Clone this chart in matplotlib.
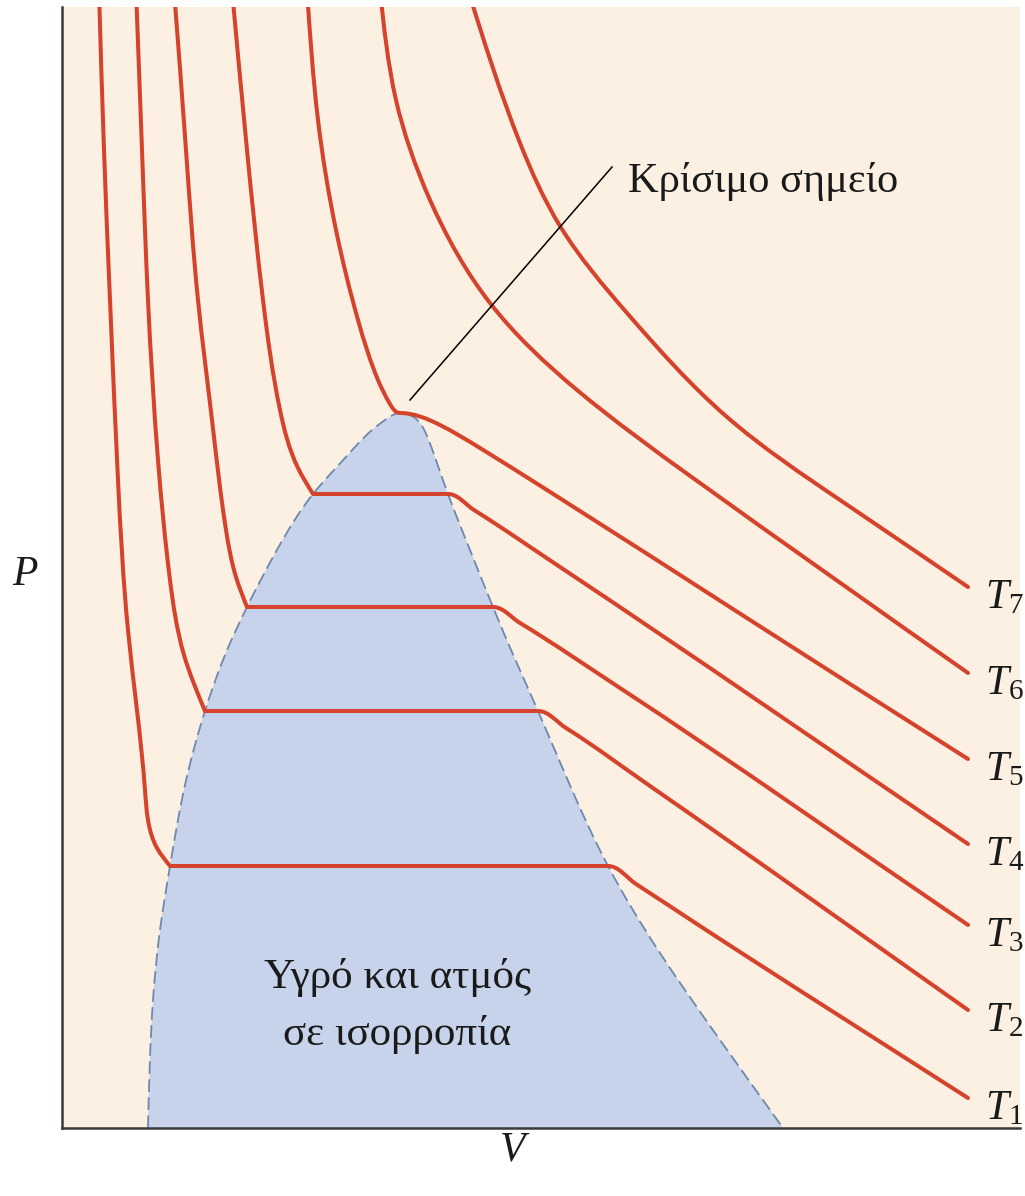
import numpy as np
import matplotlib
matplotlib.use("Agg")
import matplotlib.pyplot as plt
from matplotlib.path import Path
from matplotlib.patches import PathPatch

plt.rcParams["font.family"] = ["Liberation Serif", "DejaVu Serif"]
plt.rcParams["mathtext.fontset"] = "custom"
plt.rcParams["mathtext.rm"] = "Liberation Serif"
plt.rcParams["mathtext.it"] = "Liberation Serif:italic"

# ---- isotherms (V, P in arbitrary units); equal consecutive P = liquid-vapour tie line
T1_V = [0.37, 0.42, 0.48, 0.56, 0.66, 0.83, 0.95, 1.08, 5.46, 5.74, 6.38, 9.06]
T1_P = [11.38, 9.78, 8.28, 6.48, 4.98, 3.38, 2.80, 2.62, 2.62, 2.44, 2.02, 0.30]

T2_V = [0.74, 0.80, 0.86, 0.96, 1.08, 1.22, 1.43, 4.76, 5.04, 5.88, 9.06]
T2_P = [11.38, 9.78, 8.28, 6.68, 5.48, 4.73, 4.17, 4.17, 4.00, 3.42, 1.18]

T3_V = [1.12, 1.24, 1.36, 1.50, 1.64, 1.74, 1.85, 4.31, 4.58, 5.58, 9.06]
T3_P = [11.38, 9.78, 8.28, 7.08, 5.98, 5.51, 5.21, 5.21, 5.05, 4.40, 2.03]

T4_V = [1.70, 1.85, 2.01, 2.18, 2.36, 2.51, 3.86, 4.12, 4.98, 9.06]
T4_P = [11.38, 9.78, 8.28, 7.18, 6.60, 6.34, 6.34, 6.18, 5.61, 2.84]

T5_V = [2.45, 2.56, 2.74, 2.96, 3.16, 3.28, 3.38, 3.78, 4.18, 4.85, 6.88, 9.06]
T5_P = [11.38, 10.08, 8.98, 8.08, 7.48, 7.24, 7.15, 7.03, 6.80, 6.38, 5.08, 3.69]

T6_V = [3.18, 3.34, 3.68, 4.28, 5.15, 6.31, 9.06]
T6_P = [11.38, 10.28, 9.28, 8.25, 7.38, 6.50, 4.55]

T7_V = [4.06, 4.58, 4.98, 5.65, 6.65, 7.78, 9.06]
T7_P = [11.38, 9.85, 9.02, 8.15, 7.11, 6.28, 5.41]

iso_labels = ["$T_1$", "$T_2$", "$T_3$", "$T_4$", "$T_5$", "$T_6$", "$T_7$"]

# ---- saturation dome
dome_V = [0.86, 0.91, 0.98, 1.08, 1.23, 1.43, 1.63, 1.85, 2.16, 2.51, 2.83, 3.10, 3.26, 3.38,
          3.53, 3.65, 3.75, 3.86, 4.08, 4.31, 4.53, 4.76, 5.10, 5.46, 5.96, 6.58, 7.21]
dome_P = [0.00, 1.28, 1.98, 2.62, 3.43, 4.17, 4.73, 5.21, 5.80, 6.34, 6.70, 6.98, 7.10, 7.15,
          7.10, 6.92, 6.65, 6.34, 5.78, 5.21, 4.69, 4.17, 3.38, 2.62, 1.78, 0.88, 0.00]

critical_V, critical_P = 3.38, 7.15
leader_V = [3.48, 5.50]
leader_P = [7.28, 9.61]

BEIGE = "#FBF0E2"
DOME_FILL = "#C6D3EA"
DOME_EDGE = "#6F88AE"
RED = "#D6432C"
AXIS = "#3A3A3A"
INK = "#1a1a1a"
EAST = np.array([1.0, 0.0])


def unit(d):
    return d / np.hypot(*d)


def spline_bezier(pts, d0=None, d1=None):
    """Cubic spline (chord-length parameter) through pts, as Bezier control points.
    d0 / d1 clamp the end directions; None gives a natural end."""
    seg = np.diff(pts, axis=0)
    h = np.hypot(seg[:, 0], seg[:, 1])
    n = len(pts)
    A = np.zeros((n, n))
    rhs = np.zeros((n, 2))
    for i in range(1, n - 1):
        A[i, i - 1], A[i, i], A[i, i + 1] = h[i - 1], 2 * (h[i - 1] + h[i]), h[i]
        rhs[i] = 6 * (seg[i] / h[i] - seg[i - 1] / h[i - 1])
    if d0 is None:
        A[0, 0] = 1.0
    else:
        A[0, 0], A[0, 1] = 2 * h[0], h[0]
        rhs[0] = 6 * (seg[0] / h[0] - d0)
    if d1 is None:
        A[-1, -1] = 1.0
    else:
        A[-1, -2], A[-1, -1] = h[-1], 2 * h[-1]
        rhs[-1] = 6 * (d1 - seg[-1] / h[-1])
    M = np.linalg.solve(A, rhs)
    verts = []
    for i in range(n - 1):
        s = seg[i] / h[i]
        da = s - h[i] * (2 * M[i] + M[i + 1]) / 6
        db = s + h[i] * (M[i] + 2 * M[i + 1]) / 6
        verts += [pts[i] + da * h[i] / 3, pts[i + 1] - db * h[i] / 3, pts[i + 1]]
    return verts


def hermite_bezier(pts, d0):
    """Local Hermite curve (Bessel tangents): a short bend followed by a
    near-straight run, without spline ringing."""
    seg = np.diff(pts, axis=0)
    h = np.hypot(seg[:, 0], seg[:, 1])
    u = seg / h[:, None]
    n = len(pts)
    tang = [d0] + [unit(h[i] * u[i - 1] + h[i - 1] * u[i]) for i in range(1, n - 1)] + [u[-1]]
    verts = []
    for i in range(n - 1):
        verts += [pts[i] + tang[i] * h[i] / 3, pts[i + 1] - tang[i + 1] * h[i] / 3, pts[i + 1]]
    return verts


def curve_path(v, p, flat=()):
    """Smooth branches joined by straight tie lines (equal consecutive P);
    points listed in `flat` get a horizontal tangent."""
    pts = np.column_stack([v, p]).astype(float)
    n = len(pts)
    ties = {k for k in range(n - 1) if p[k] == p[k + 1]}
    breaks = sorted({0, n - 1} | set(flat) | ties | {k + 1 for k in ties})
    verts, codes = [pts[0]], [Path.MOVETO]
    for a, b in zip(breaks[:-1], breaks[1:]):
        if b == a + 1 and a in ties:
            verts.append(pts[b])
            codes.append(Path.LINETO)
            continue
        if (a - 1) in ties:
            vs = hermite_bezier(pts[a:b + 1], EAST)
        else:
            d0 = EAST if a in flat else None
            d1 = EAST if b in flat else None
            vs = spline_bezier(pts[a:b + 1], d0, d1)
        verts += vs
        codes += [Path.CURVE4] * len(vs)
    return Path(verts, codes)


fig = plt.figure(figsize=(10.25, 11.96), dpi=100)
ax = fig.add_axes([62 / 1025, 68 / 1196, 958 / 1025, 1121 / 1196])
ax.set_facecolor(BEIGE)
ax.set_xlim(0, 9.58)
ax.set_ylim(0, 11.21)
ax.set_xticks([])
ax.set_yticks([])
for side in ("top", "right"):
    ax.spines[side].set_visible(False)
for side in ("left", "bottom"):
    ax.spines[side].set_color(AXIS)
    ax.spines[side].set_linewidth(1.8)
    ax.spines[side].set_zorder(10)

# dome: filled region plus dashed boundary
peak = int(np.argmax(dome_P))
dome = curve_path(dome_V, dome_P, flat=(peak,))
fill_verts = list(dome.vertices) + [dome.vertices[0], dome.vertices[0]]
fill_codes = list(dome.codes) + [Path.LINETO, Path.CLOSEPOLY]
ax.add_patch(PathPatch(Path(fill_verts, fill_codes), facecolor=DOME_FILL,
                       edgecolor="none", zorder=1))
ax.add_patch(PathPatch(dome, facecolor="none", edgecolor=DOME_EDGE, lw=1.3,
                       linestyle=(0, (7, 3)), zorder=2))

# isotherms
isotherms = [(T1_V, T1_P), (T2_V, T2_P), (T3_V, T3_P), (T4_V, T4_P),
             (T5_V, T5_P), (T6_V, T6_P), (T7_V, T7_P)]
for k, (v, p) in enumerate(isotherms):
    flat = (v.index(critical_V),) if critical_V in v else ()
    ax.add_patch(PathPatch(curve_path(v, p, flat), facecolor="none",
                           edgecolor=RED, lw=2.9, capstyle="round",
                           joinstyle="round", zorder=4))
    ax.annotate(iso_labels[k], xy=(v[-1], p[-1]), xytext=(12, -15),
                textcoords="offset points", ha="left", va="baseline",
                fontsize=30, color=INK, annotation_clip=False)

# critical point callout
ax.plot(leader_V, leader_P, color="black", lw=1.1, zorder=5)
ax.text(5.66, 9.36, "Κρίσιμο σημείο", fontsize=30.5, color=INK,
        ha="left", va="baseline", zorder=6)

# two-phase region label
ax.text(3.35, 1.40, "Υγρό και ατμός", fontsize=31, color=INK,
        ha="center", va="baseline", zorder=6)
ax.text(3.35, 0.83, "σε ισορροπία", fontsize=31, color=INK,
        ha="center", va="baseline", zorder=6)

# axis names
fig.text(25 / 1025, 1 - 575 / 1196, "P", fontsize=30, fontstyle="italic",
         ha="center", va="center", color=INK)
fig.text(513 / 1025, 1 - 1150 / 1196, "V", fontsize=30, fontstyle="italic",
         ha="center", va="center", color=INK)

fig.savefig("out.png", dpi=100, facecolor="white")
